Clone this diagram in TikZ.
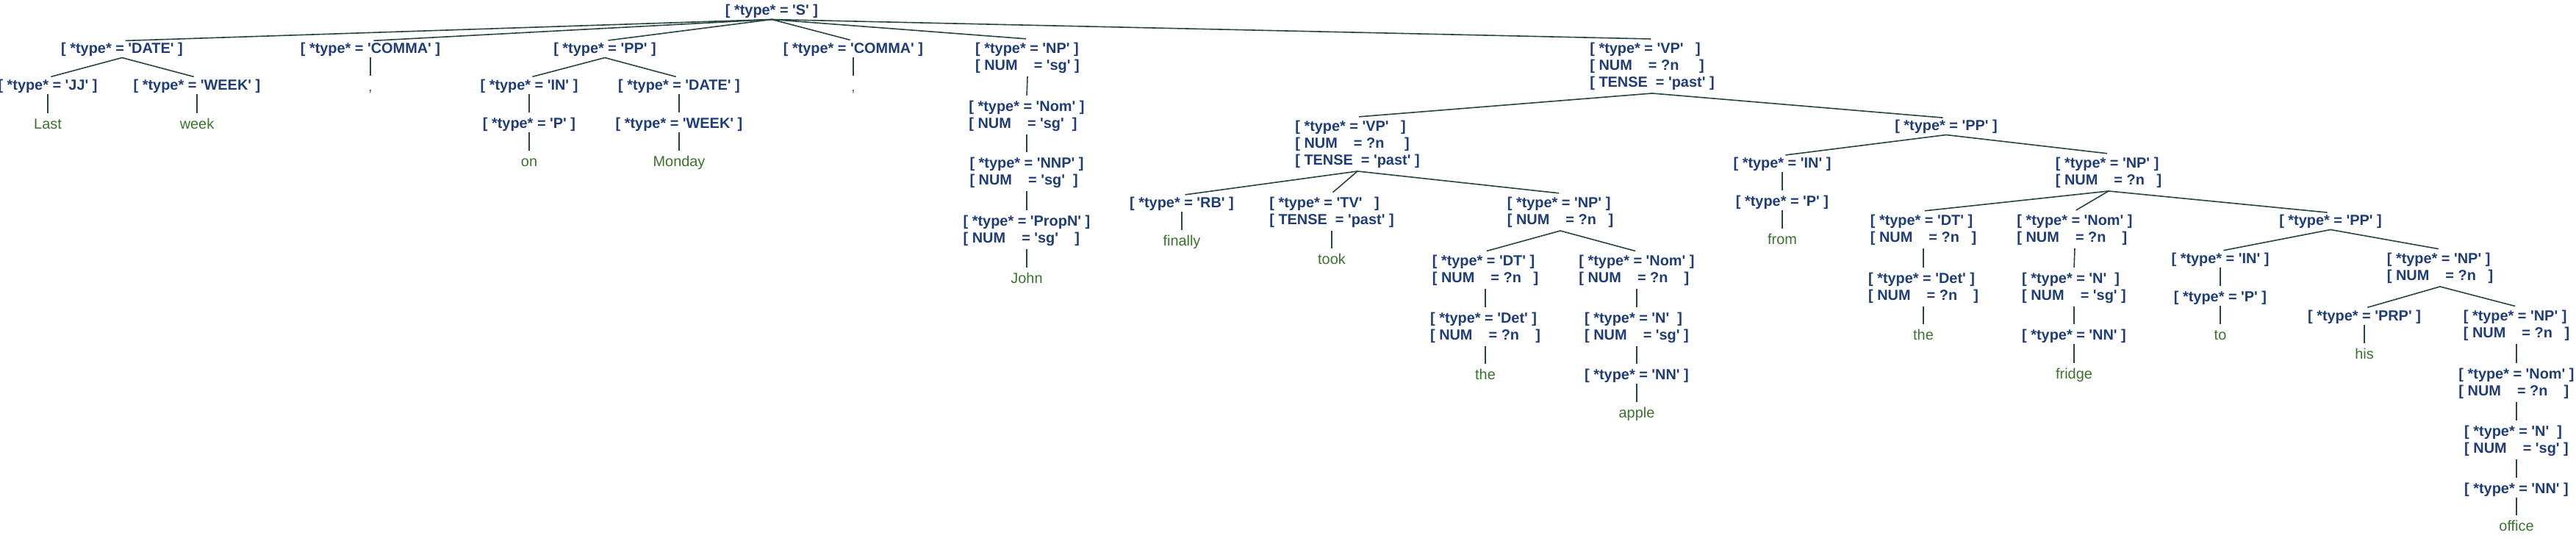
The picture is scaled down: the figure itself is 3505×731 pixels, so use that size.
\documentclass[tikz,border=0pt]{standalone}
\usepackage{fontspec}
\newfontfamily\nf{Liberation Sans}[Ligatures=TeXOff]
\definecolor{nodecol}{HTML}{1E3C78}
\definecolor{leafcol}{HTML}{3A722E}
\definecolor{linecol}{HTML}{264440}
\tikzset{
  sn/.style={font=\nf\bfseries\fontsize{19.9}{23}\selectfont, text=nodecol, inner xsep=0pt, inner ysep=2pt, align=left},
  mn/.style={sn, inner ysep=4.5pt},
  lf/.style={font=\nf\fontsize{19.9}{23}\selectfont, text=leafcol, inner xsep=0pt, inner ysep=2pt, text height=14.5pt, text depth=4.2pt},
  ed/.style={draw=linecol, line width=1.6pt, shorten >=4.5pt},
  edm/.style={draw=linecol, line width=1.6pt, shorten >=2pt}
}
\begin{document}
\begin{tikzpicture}[x=1pt,y=-1pt]
\useasboundingbox (0,0) rectangle (3505,731);
% root
\node[sn] (S) at (1050,15) {[ *type* = 'S' ]};
% level 1
\node[sn] (DATE1) at (166,67) {[ *type* = 'DATE' ]};
\node[sn] (COMMA1) at (504,67) {[ *type* = 'COMMA' ]};
\node[sn] (PP1) at (823,67) {[ *type* = 'PP' ]};
\node[sn] (COMMA2) at (1161,67) {[ *type* = 'COMMA' ]};
\node[mn] (NP1) at (1398,78.5) {[ *type* = 'NP' ]\\{}[ NUM\ \ \ \ = 'sg' ]};
\node[mn] (VP1) at (2248,90) {[ *type* = 'VP'\ \ \ ]\\{}[ NUM\ \ \ \ = ?n\ \ \ \ \ ]\\{}[ TENSE\ \ = 'past' ]};
% DATE subtree
\node[sn] (JJ) at (65,117) {[ *type* = 'JJ' ]};
\node[sn] (WEEK1) at (268,117) {[ *type* = 'WEEK' ]};
\node[lf] (Last) at (65,170) {Last};
\node[lf] (week) at (268,170) {week};
% commas
\node[lf] (c1) at (504,119) {,};
\node[lf] (c2) at (1161,119) {,};
% PP1 subtree
\node[sn] (IN1) at (720,117) {[ *type* = 'IN' ]};
\node[sn] (DATE2) at (924,117) {[ *type* = 'DATE' ]};
\node[sn] (P1) at (720,169) {[ *type* = 'P' ]};
\node[sn] (WEEK2) at (924,169) {[ *type* = 'WEEK' ]};
\node[lf] (on) at (720,221) {on};
\node[lf] (Monday) at (924,221) {Monday};
% NP1 subtree
\node[mn] (Nom1) at (1397,157.5) {[ *type* = 'Nom' ]\\{}[ NUM\ \ \ \ = 'sg'\ \ ]};
\node[mn] (NNP1) at (1397,234.5) {[ *type* = 'NNP' ]\\{}[ NUM\ \ \ \ = 'sg'\ \ ]};
\node[mn] (PropN1) at (1397,313.5) {[ *type* = 'PropN' ]\\{}[ NUM\ \ \ \ = 'sg'\ \ \ \ ]};
\node[lf] (John) at (1397,380) {John};
% VP1 subtree
\node[mn] (VP2) at (1847,196) {[ *type* = 'VP'\ \ \ ]\\{}[ NUM\ \ \ \ = ?n\ \ \ \ \ ]\\{}[ TENSE\ \ = 'past' ]};
\node[sn] (PP2) at (2648,172) {[ *type* = 'PP' ]};
\node[sn] (RB) at (1608,277) {[ *type* = 'RB' ]};
\node[lf] (finally) at (1608,329) {finally};
\node[mn] (TV) at (1812,288.5) {[ *type* = 'TV'\ \ \ ]\\{}[ TENSE\ \ = 'past' ]};
\node[lf] (took) at (1812,354) {took};
\node[mn] (NP2) at (2123,288.5) {[ *type* = 'NP' ]\\{}[ NUM\ \ \ \ = ?n\ \ \ ]};
\node[mn] (DT1) at (2021,367.5) {[ *type* = 'DT' ]\\{}[ NUM\ \ \ \ = ?n\ \ \ ]};
\node[mn] (Nom2) at (2227,367.5) {[ *type* = 'Nom' ]\\{}[ NUM\ \ \ \ = ?n\ \ \ \ ]};
\node[mn] (Det1) at (2021,445.5) {[ *type* = 'Det' ]\\{}[ NUM\ \ \ \ = ?n\ \ \ \ ]};
\node[mn] (N1) at (2227,445.5) {[ *type* = 'N'\ \ ]\\{}[ NUM\ \ \ \ = 'sg' ]};
\node[lf] (the1) at (2021,511) {the};
\node[sn] (NN1) at (2227,511) {[ *type* = 'NN' ]};
\node[lf] (apple) at (2227,563) {apple};
% PP2 subtree
\node[sn] (IN2) at (2425,223) {[ *type* = 'IN' ]};
\node[sn] (P2) at (2425,275) {[ *type* = 'P' ]};
\node[lf] (from) at (2425,327) {from};
\node[mn] (NP3) at (2869,234.5) {[ *type* = 'NP' ]\\{}[ NUM\ \ \ \ = ?n\ \ \ ]};
\node[mn] (DT2) at (2617,312.5) {[ *type* = 'DT' ]\\{}[ NUM\ \ \ \ = ?n\ \ \ ]};
\node[mn] (Nom3) at (2823,312.5) {[ *type* = 'Nom' ]\\{}[ NUM\ \ \ \ = ?n\ \ \ \ ]};
\node[sn] (PP3) at (3171,301) {[ *type* = 'PP' ]};
\node[mn] (Det2) at (2617,391.5) {[ *type* = 'Det' ]\\{}[ NUM\ \ \ \ = ?n\ \ \ \ ]};
\node[mn] (N2) at (2822,391.5) {[ *type* = 'N'\ \ ]\\{}[ NUM\ \ \ \ = 'sg' ]};
\node[lf] (the2) at (2617,457) {the};
\node[sn] (NN2) at (2822,457) {[ *type* = 'NN' ]};
\node[lf] (fridge) at (2822,510) {fridge};
\node[sn] (IN3) at (3021,353) {[ *type* = 'IN' ]};
\node[sn] (P3) at (3021,405) {[ *type* = 'P' ]};
\node[lf] (to) at (3021,457) {to};
\node[mn] (NP4) at (3320,364.5) {[ *type* = 'NP' ]\\{}[ NUM\ \ \ \ = ?n\ \ \ ]};
\node[sn] (PRP) at (3217,431) {[ *type* = 'PRP' ]};
\node[lf] (his) at (3217,483) {his};
\node[mn] (NP5) at (3424,442.5) {[ *type* = 'NP' ]\\{}[ NUM\ \ \ \ = ?n\ \ \ ]};
\node[mn] (Nom4) at (3424,521.5) {[ *type* = 'Nom' ]\\{}[ NUM\ \ \ \ = ?n\ \ \ \ ]};
\node[mn] (N3) at (3424,599.5) {[ *type* = 'N'\ \ ]\\{}[ NUM\ \ \ \ = 'sg' ]};
\node[sn] (NN3) at (3424,666) {[ *type* = 'NN' ]};
\node[lf] (office) at (3424,717) {office};
% edges
\foreach \c in {DATE1,COMMA1,PP1,COMMA2} \draw[ed] (S.south) -- (\c.north);
\foreach \c in {NP1,VP1} \draw[edm] (S.south) -- (\c.north);
\draw[ed] (DATE1.south) -- (JJ.north);
\draw[ed] (DATE1.south) -- (WEEK1.north);
\draw[ed] (JJ.south) -- (Last.north);
\draw[ed] (WEEK1.south) -- (week.north);
\draw[ed] (COMMA1.south) -- (c1.north);
\draw[ed] (COMMA2.south) -- (c2.north);
\draw[ed] (PP1.south) -- (IN1.north);
\draw[ed] (PP1.south) -- (DATE2.north);
\draw[ed] (IN1.south) -- (P1.north);
\draw[ed] (DATE2.south) -- (WEEK2.north);
\draw[ed] (P1.south) -- (on.north);
\draw[ed] (WEEK2.south) -- (Monday.north);
\draw[edm] (NP1.south) -- (Nom1.north);
\draw[edm] (Nom1.south) -- (NNP1.north);
\draw[edm] (NNP1.south) -- (PropN1.north);
\draw[ed] (PropN1.south) -- (John.north);
\draw[edm] (VP1.south) -- (VP2.north);
\draw[ed] (VP1.south) -- (PP2.north);
\draw[ed] (VP2.south) -- (RB.north);
\draw[edm] (VP2.south) -- (TV.north);
\draw[edm] (VP2.south) -- (NP2.north);
\draw[ed] (RB.south) -- (finally.north);
\draw[ed] (TV.south) -- (took.north);
\draw[edm] (NP2.south) -- (DT1.north);
\draw[edm] (NP2.south) -- (Nom2.north);
\draw[edm] (DT1.south) -- (Det1.north);
\draw[edm] (Nom2.south) -- (N1.north);
\draw[ed] (Det1.south) -- (the1.north);
\draw[ed] (N1.south) -- (NN1.north);
\draw[ed] (NN1.south) -- (apple.north);
\draw[ed] (PP2.south) -- (IN2.north);
\draw[edm] (PP2.south) -- (NP3.north);
\draw[ed] (IN2.south) -- (P2.north);
\draw[ed] (P2.south) -- (from.north);
\draw[edm] (NP3.south) -- (DT2.north);
\draw[edm] (NP3.south) -- (Nom3.north);
\draw[ed] (NP3.south) -- (PP3.north);
\draw[edm] (DT2.south) -- (Det2.north);
\draw[edm] (Nom3.south) -- (N2.north);
\draw[ed] (Det2.south) -- (the2.north);
\draw[ed] (N2.south) -- (NN2.north);
\draw[ed] (NN2.south) -- (fridge.north);
\draw[ed] (PP3.south) -- (IN3.north);
\draw[edm] (PP3.south) -- (NP4.north);
\draw[ed] (IN3.south) -- (P3.north);
\draw[ed] (P3.south) -- (to.north);
\draw[ed] (NP4.south) -- (PRP.north);
\draw[edm] (NP4.south) -- (NP5.north);
\draw[ed] (PRP.south) -- (his.north);
\draw[edm] (NP5.south) -- (Nom4.north);
\draw[edm] (Nom4.south) -- (N3.north);
\draw[ed] (N3.south) -- (NN3.north);
\draw[ed] (NN3.south) -- (office.north);
\end{tikzpicture}
\end{document}
